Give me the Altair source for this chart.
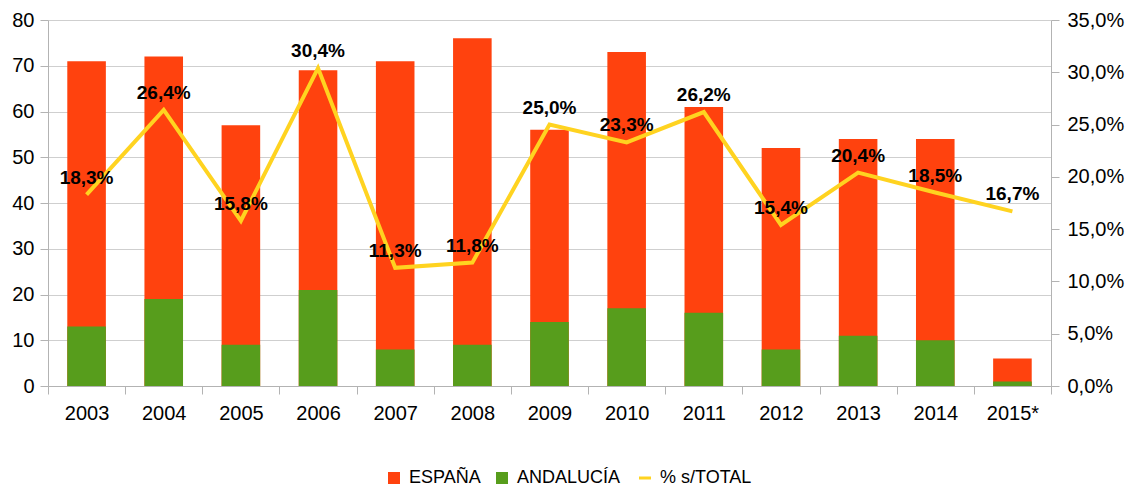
import altair as alt
import pandas as pd

years = ["2003", "2004", "2005", "2006", "2007", "2008", "2009", "2010",
         "2011", "2012", "2013", "2014", "2015*"]
espana = [71, 72, 57, 69, 71, 76, 56, 73, 61, 52, 54, 54, 6]
andalucia = [13, 19, 9, 21, 8, 9, 14, 17, 16, 8, 11, 10, 1]
pct = [18.3, 26.4, 15.8, 30.4, 11.3, 11.8, 25.0, 23.3, 26.2, 15.4, 20.4, 18.5, 16.7]
series = ["ESPAÑA", "ANDALUCÍA", "% s/TOTAL"]
colors = ["#FF420E", "#579D1C", "#FFD320"]
left_ticks = [0, 10, 20, 30, 40, 50, 60, 70, 80]
right_ticks = [0, 0.05, 0.1, 0.15, 0.2, 0.25, 0.3, 0.35]

FONT = "Liberation Sans"
AXIS_GRAY = "#b3b3b3"

bars_df = pd.DataFrame({
    "year": years * 2,
    "series": [series[0]] * len(years) + [series[1]] * len(years),
    "value": espana + andalucia,
    "ord": [0] * len(years) + [1] * len(years),
})
line_df = pd.DataFrame({
    "year": years,
    "series": [series[2]] * len(years),
    "pct": [p / 100 for p in pct],
})

x_enc = alt.X(
    "year:N", sort=years,
    scale=alt.Scale(paddingInner=0, paddingOuter=0),
    axis=alt.Axis(title=None, labelAngle=0, tickBand="extent", tickSize=8,
                  labelFontSize=20, labelPadding=9, labelColor="black",
                  domainColor=AXIS_GRAY, tickColor=AXIS_GRAY, grid=False),
)

is_line = "datum.value === '% s/TOTAL'"
legend = alt.Legend(
    title=None, orient="none", direction="horizontal",
    legendX=337, legendY=449,
    symbolSize=144,
    symbolType={"expr": f"{is_line} ? 'stroke' : 'square'"},
    symbolStrokeWidth={"expr": f"{is_line} ? 3 : 0"},
    symbolOpacity=1,
    labelFontSize=18, labelFont=FONT, labelColor="black",
    labelOffset=6, columnPadding=12,
)

color_enc = alt.Color("series:N",
                      scale=alt.Scale(domain=series, range=colors),
                      legend=legend)

bars = alt.Chart(bars_df).mark_bar(width=alt.RelativeBandSize(0.5)).encode(
    x=x_enc,
    y=alt.Y("value:Q", stack=None, scale=alt.Scale(domain=[0, 80], nice=False),
            axis=alt.Axis(title=None, values=left_ticks, grid=True,
                          gridColor="#cfcfcf", domainColor=AXIS_GRAY,
                          tickColor=AXIS_GRAY, tickSize=8, labelFontSize=20,
                          labelPadding=6, labelColor="black")),
    color=color_enc,
    order=alt.Order("ord:Q"),
)

pct_scale = alt.Scale(domain=[0, 0.35], nice=False)

line = alt.Chart(line_df).mark_line(strokeWidth=4).encode(
    x=x_enc,
    y=alt.Y("pct:Q", scale=pct_scale,
            axis=alt.Axis(title=None, orient="right", values=right_ticks,
                          labelExpr="replace(format(datum.value, '.1%'), '.', ',')",
                          grid=False, domainColor=AXIS_GRAY, tickColor=AXIS_GRAY,
                          tickSize=8, labelFontSize=20, labelPadding=8,
                          labelColor="black")),
    color=color_enc,
)

labels = alt.Chart(line_df).transform_calculate(
    lab="replace(format(datum.pct, '.1%'), '.', ',')"
).mark_text(fontWeight="bold", fontSize=19, color="black", baseline="bottom",
            dy=-7, font=FONT).encode(
    x=x_enc,
    y=alt.Y("pct:Q", scale=pct_scale, axis=None),
    text="lab:N",
)

chart = alt.layer(bars, line, labels).resolve_scale(y="independent").properties(
    width=1003, height=366,
    autosize=alt.AutoSizeParams(type="none"),
    padding={"left": 48, "top": 20, "right": 77, "bottom": 102},
).configure(font=FONT).configure_view(strokeWidth=0)

chart.save("out.html", embed_options={"renderer": "svg", "actions": False})
